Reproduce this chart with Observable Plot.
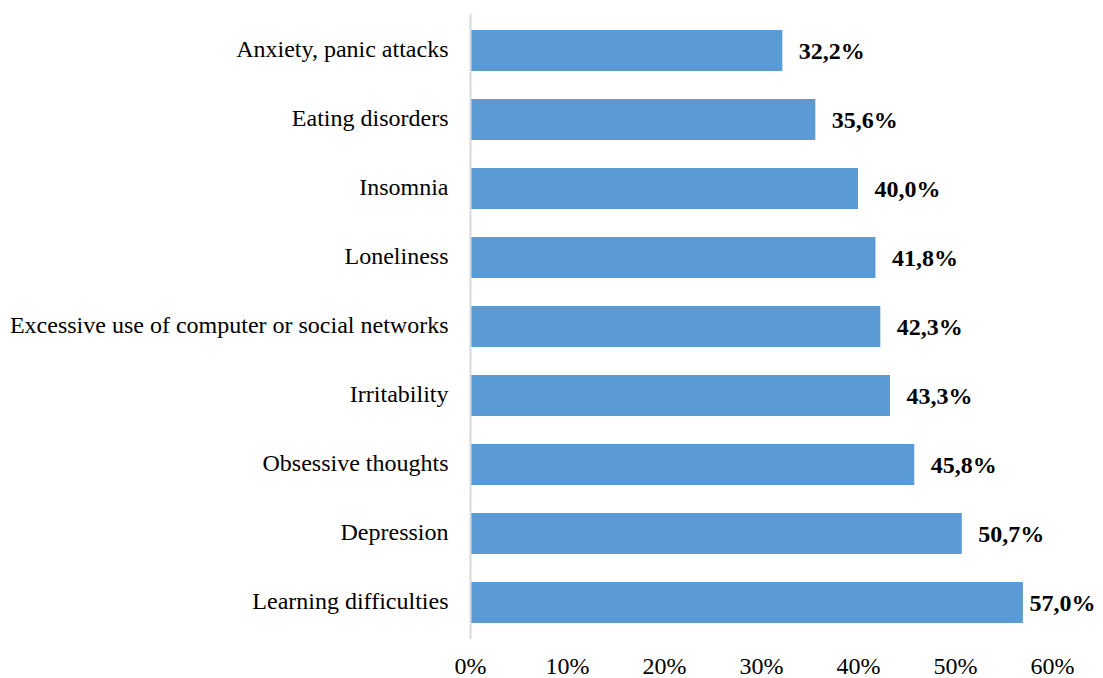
<!DOCTYPE html>
<html>
<head>
<meta charset="utf-8">
<script src="https://cdn.jsdelivr.net/npm/d3@7"></script>
<script src="https://cdn.jsdelivr.net/npm/@observablehq/plot@0.6"></script>
<style>
  html, body { margin: 0; padding: 0; background: #fff; }
  #chart svg { display: block; }
</style>
</head>
<body>
<div id="chart"></div>
<script>
const categories = [
  "Anxiety, panic attacks",
  "Eating disorders",
  "Insomnia",
  "Loneliness",
  "Excessive use of computer or social networks",
  "Irritability",
  "Obsessive thoughts",
  "Depression",
  "Learning difficulties"
];
const values = [32.2, 35.6, 40.0, 41.8, 42.3, 43.3, 45.8, 50.7, 57.0];
const xTicks = [0, 10, 20, 30, 40, 50, 60];

const data = categories.map((c, i) => ({category: c, value: values[i]}));
const fmt = v => v.toFixed(1).replace(".", ",") + "%";
const lastCat = categories[categories.length - 1];

const chart = Plot.plot({
  width: 1103,
  height: 678,
  marginLeft: 470,
  marginRight: 51,
  marginTop: 14,
  marginBottom: 39,
  style: {fontFamily: "'Liberation Serif', 'Times New Roman', serif", fontSize: "24px", color: "#000", background: "#fff"},
  x: {domain: [0, 60], label: null},
  y: {domain: categories, padding: 0.4, paddingOuter: 0.2, label: null},
  marks: [
    Plot.barX(data, {x: "value", y: "category", fill: "#5b9bd5"}),
    Plot.ruleX([0], {stroke: "#d9d9d9", strokeWidth: 2}),
    Plot.axisY({tickSize: 0, tickPadding: 22, dy: -2, fontSize: 24}),
    Plot.axisX({ticks: xTicks, tickFormat: d => d + "%", tickSize: 0, tickPadding: 17, fontSize: 24}),
    Plot.text(data.filter(d => d.category !== lastCat), {x: "value", y: "category", text: d => fmt(d.value), textAnchor: "start", dx: 16, fontWeight: "bold", fontSize: 24, fill: "#000"}),
    Plot.text(data.filter(d => d.category === lastCat), {x: "value", y: "category", text: d => fmt(d.value), textAnchor: "start", dx: 6, fontWeight: "bold", fontSize: 24, fill: "#000"})
  ]
});
document.getElementById("chart").appendChild(chart);
</script>
</body>
</html>
